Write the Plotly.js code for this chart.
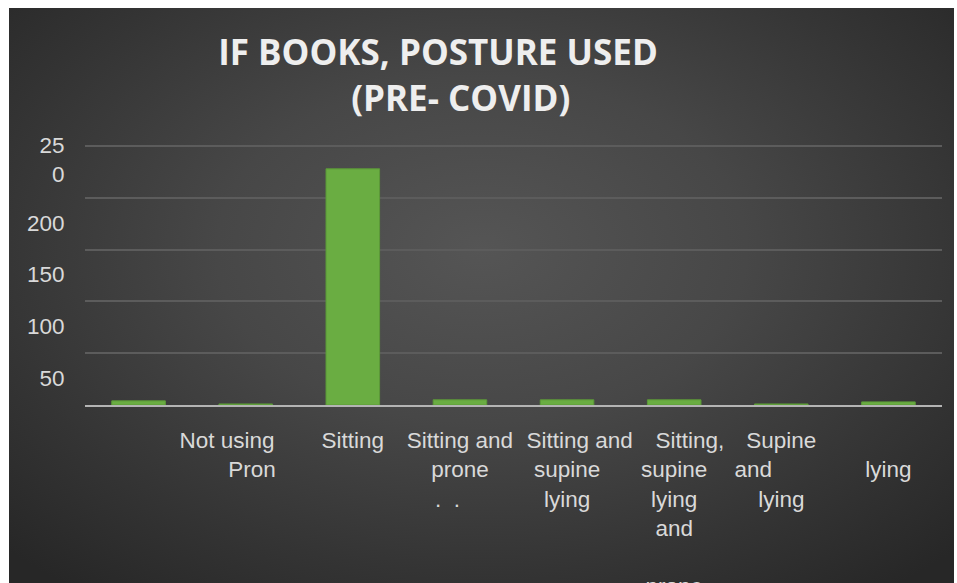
<!DOCTYPE html>
<html>
<head>
<meta charset="utf-8">
<script src="https://cdn.plot.ly/plotly-3.0.1.min.js"></script>
<style>
  html, body { margin: 0; padding: 0; background: #ffffff; }
  #bg { position: absolute; left: 9px; top: 8px; width: 945px; height: 575px;
        background: radial-gradient(ellipse 70% 75% at 50% 42%, #555555 0%, #474747 40%, #343434 75%, #272727 100%); }
  #plot { position: absolute; left: 0; top: 0; width: 957px; height: 583px; }
</style>
</head>
<body>
<div id="bg"></div>
<div id="plot"></div>
<script>
const NB = '\u00a0';
// Categories (internal ids) and counts
const categories = ['Not using', 'Prone', 'Sitting', 'Sitting and prone',
  'Sitting and supine lying', 'Sitting, supine lying and prone', 'Supine and lying', 'Lying'];
const counts = [4, 1, 228, 5, 5, 5, 1, 3];
// Tick labels as displayed in the picture
const xTickLabels = [
  '',
  'Not using' + NB.repeat(6) + '<br>' + NB.repeat(2) + 'Pron',
  'Sitting',
  'Sitting and<br>prone<br>.' + NB + NB + '.' + NB.repeat(4),
  NB.repeat(4) + 'Sitting and<br>supine<br>lying',
  NB.repeat(5) + 'Sitting,<br>supine<br>lying<br>and<br>' + NB + '<br>prone',
  'Supine<br>and' + NB.repeat(9) + '<br>lying',
  NB + '<br>lying'
];
const yTickVals = [26, 76, 126, 176, 237];
const yTickText = ['50', '100', '150', '200', '25<br>0'];
const yGridVals = [50, 100, 150, 200, 250];
const titleText = 'IF BOOKS, POSTURE USED<br>' + NB.repeat(5) + '(PRE- COVID)';

const tickFont = { family: 'Liberation Sans, Arial, sans-serif', size: 22.5, color: '#d9d9d9' };

const data = [{
  type: 'bar',
  x: categories,
  y: counts,
  marker: { color: '#6aad42', line: { color: '#5c9a38', width: 1 } },
  hoverinfo: 'x+y'
}];

const layout = {
  width: 957, height: 583, autosize: false,
  margin: { l: 85, r: 15, t: 144.5, b: 177.5 },
  paper_bgcolor: 'rgba(0,0,0,0)',
  plot_bgcolor: 'rgba(0,0,0,0)',
  showlegend: false,
  bargap: 0.5,
  title: {
    text: titleText,
    font: { family: 'Open Sans, sans-serif', size: 35, weight: 700, color: '#eeeeee' },
    x: 438 / 957, xanchor: 'center',
    y: 1 - 65 / 583, yanchor: 'top'
  },
  xaxis: {
    type: 'category',
    tickmode: 'array', tickvals: categories, ticktext: xTickLabels,
    tickangle: 0,
    ticks: 'outside', ticklen: 14, tickcolor: 'rgba(0,0,0,0)',
    showline: true, linecolor: '#b4b4b4', linewidth: 2,
    showgrid: false, zeroline: false,
    tickfont: tickFont,
    automargin: false,
    fixedrange: true
  },
  yaxis: {
    range: [0, 251],
    tickmode: 'array', tickvals: yTickVals, ticktext: yTickText,
    ticks: 'outside', ticklen: 15, tickcolor: 'rgba(0,0,0,0)',
    showgrid: false, zeroline: false, showline: false,
    minor: { tickmode: 'array', tickvals: yGridVals, showgrid: true, gridcolor: '#5c5c5c', gridwidth: 2, ticks: '' },
    tickfont: tickFont,
    automargin: false,
    fixedrange: true
  }
};

Plotly.newPlot('plot', data, layout, { displayModeBar: false, staticPlot: true });
</script>
</body>
</html>
